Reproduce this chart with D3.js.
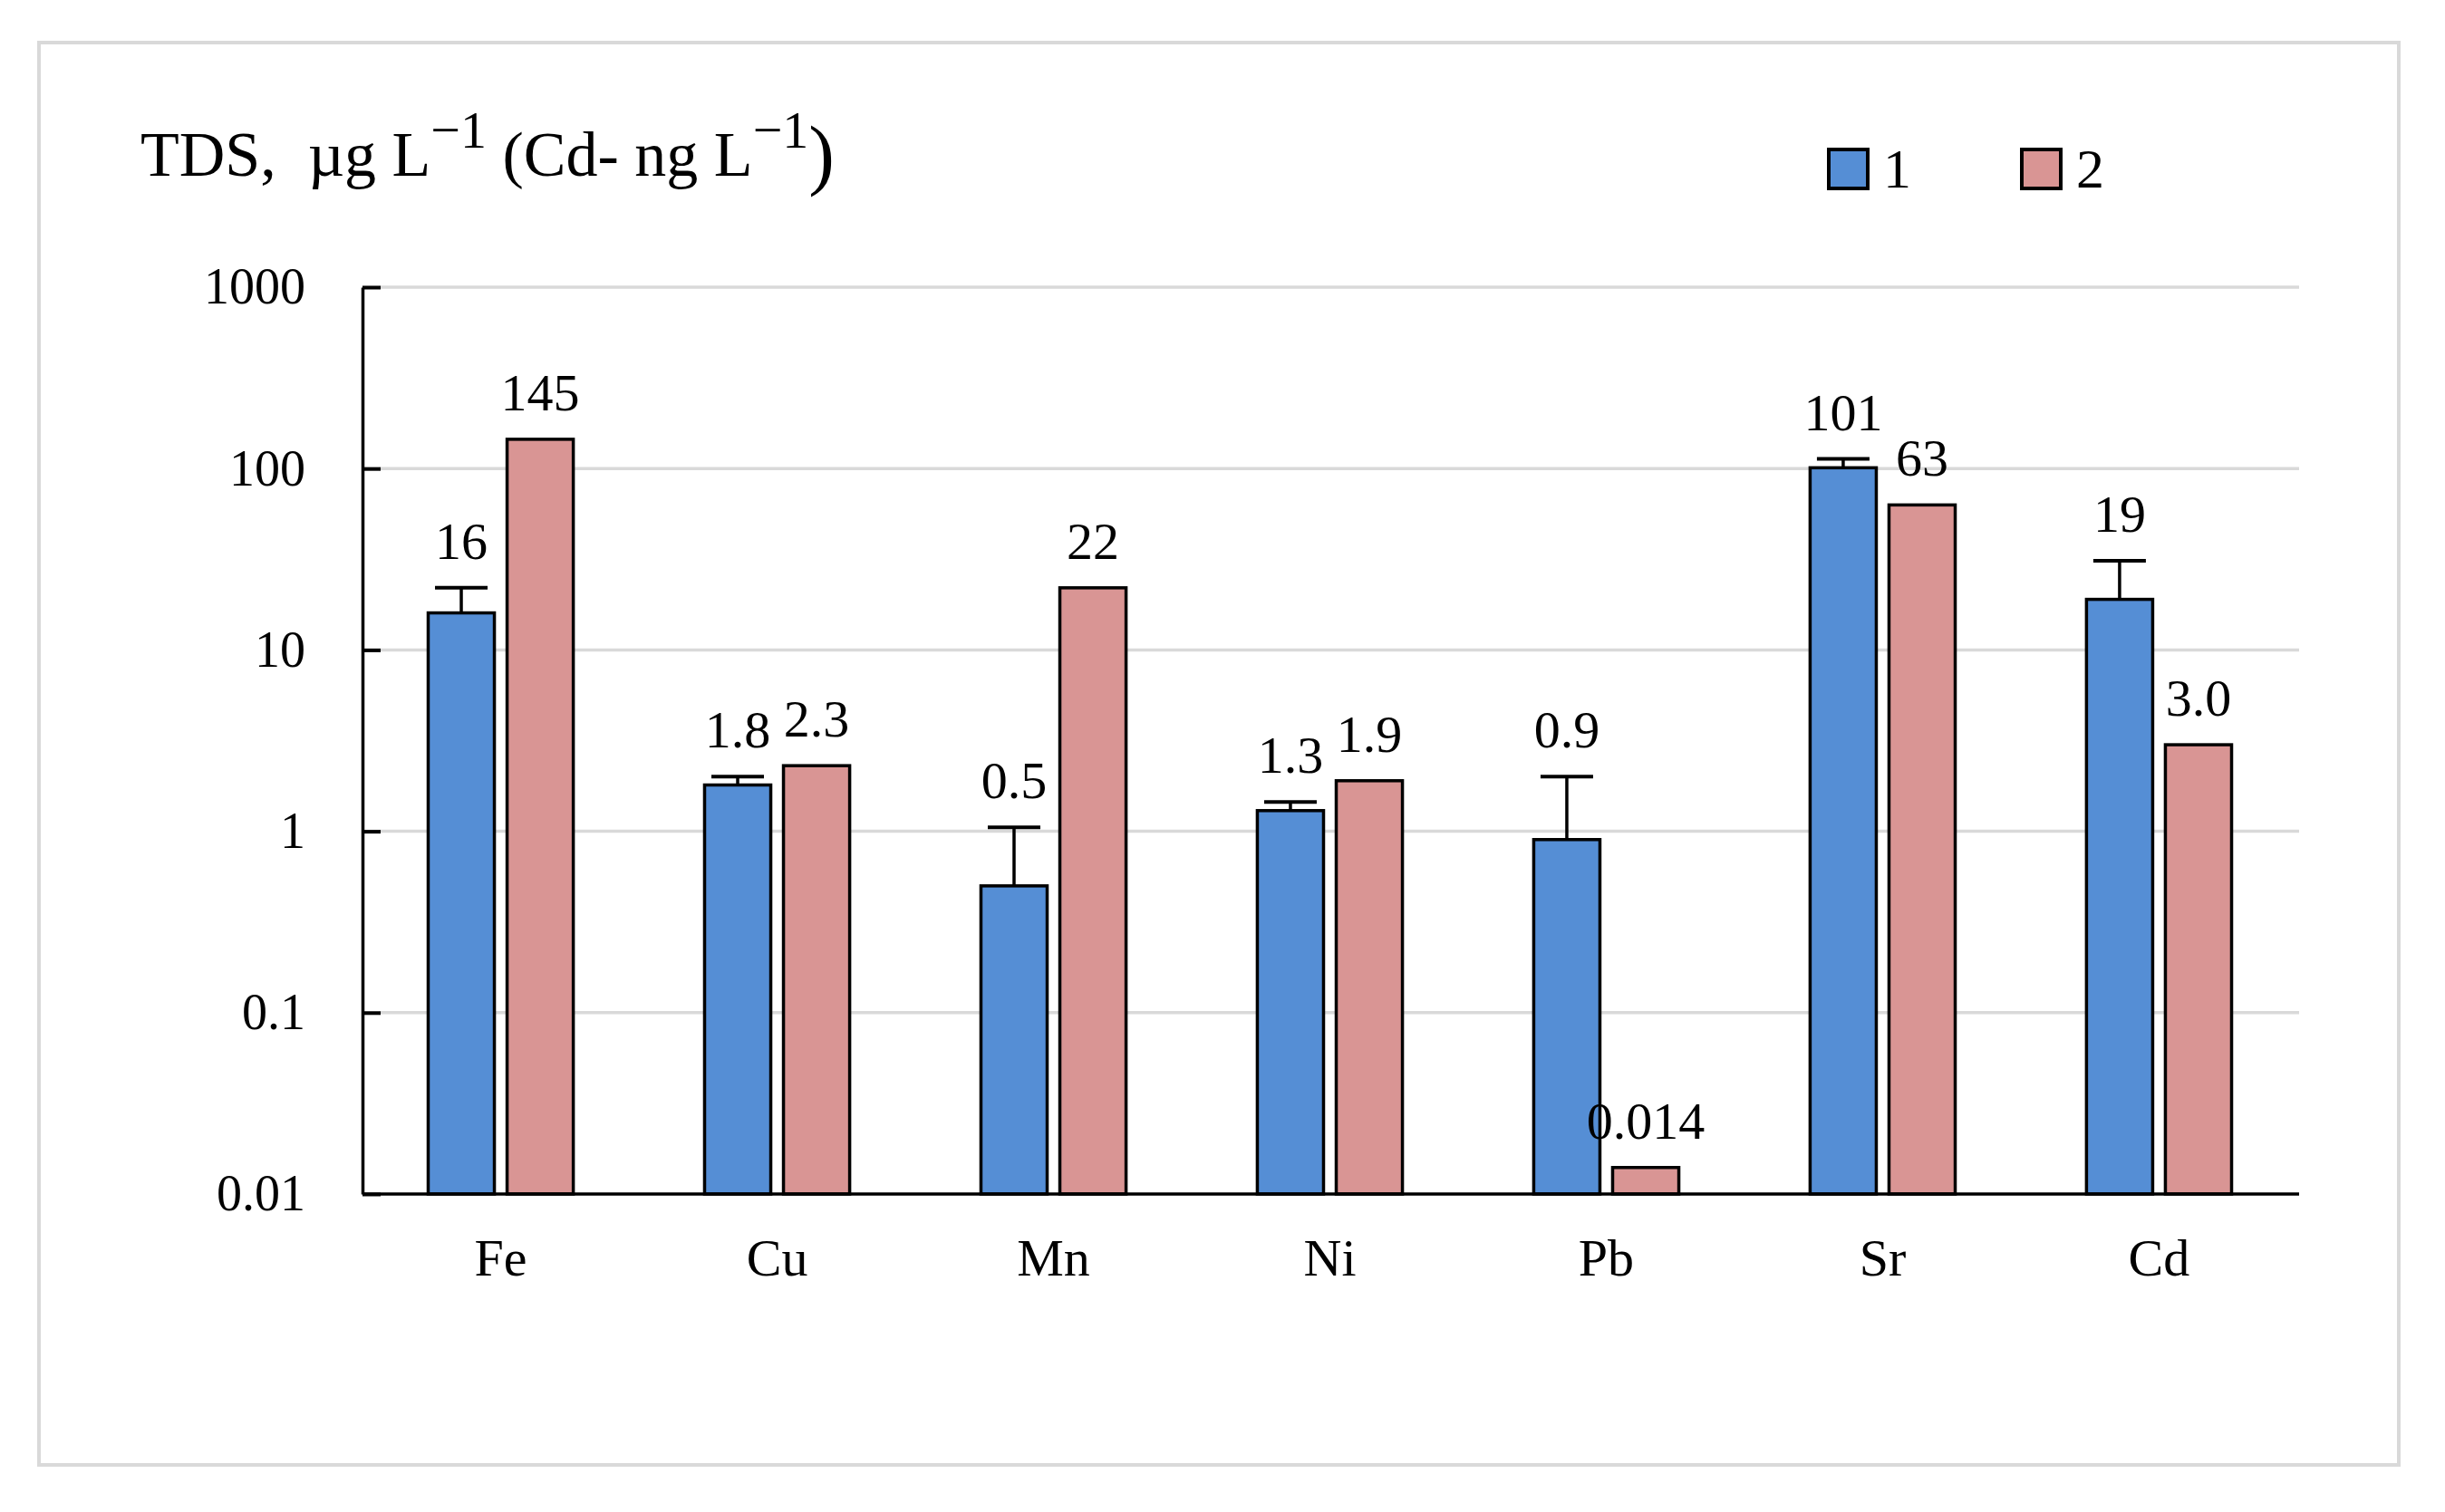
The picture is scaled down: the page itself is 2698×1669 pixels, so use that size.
<!DOCTYPE html>
<html>
<head>
<meta charset="utf-8">
<script src="https://cdn.jsdelivr.net/npm/d3@7"></script>
<style>
  body { margin: 0; background: #fff; }
  svg { display: block; font-family: "Liberation Serif", "Times New Roman", serif; }
</style>
</head>
<body>
<script>
// data
const elements = ["Fe", "Cu", "Mn", "Ni", "Pb", "Sr", "Cd"];
const series = ["1", "2"];
const values1 = [16, 1.8, 0.5, 1.3, 0.9, 101, 19];
const errors1 = [6, 0.2, 0.55, 0.15, 1.1, 12, 12];
const values2 = [145, 2.3, 22, 1.9, 0.014, 63, 3.0];
const labels1 = ["16", "1.8", "0.5", "1.3", "0.9", "101", "19"];
const labels2 = ["145", "2.3", "22", "1.9", "0.014", "63", "3.0"];
const tickValues = [1000, 100, 10, 1, 0.1, 0.01];
const tickLabels = ["1000", "100", "10", "1", "0.1", "0.01"];

const width = 2698, height = 1669;
const colors = ["#558ed5", "#d99594"];

const svg = d3.select("body").append("svg")
    .attr("width", width)
    .attr("height", height);

// outer frame
svg.append("rect")
    .attr("x", 43).attr("y", 47)
    .attr("width", 2604).attr("height", 1570)
    .attr("fill", "none")
    .attr("stroke", "#d9d9d9")
    .attr("stroke-width", 4);

const x = d3.scaleBand()
    .domain(elements)
    .range([400, 2535])
    .paddingInner(0.475)
    .paddingOuter(0.2377);

const xs = d3.scaleBand()
    .domain(series)
    .range([0, x.bandwidth()])
    .paddingInner(0.161);

const y = d3.scaleLog()
    .domain([0.01, 1000])
    .range([1318, 317]);

// grid
svg.append("g")
  .selectAll("line")
  .data(tickValues.filter(d => d > 0.01))
  .join("line")
    .attr("x1", 400).attr("x2", 2537)
    .attr("y1", d => y(d)).attr("y2", d => y(d))
    .attr("stroke", "#d9d9d9")
    .attr("stroke-width", 3.5);

const rows = elements.map((e, i) => ({
  name: e,
  bars: [
    {s: "1", v: values1[i], err: errors1[i], label: labels1[i]},
    {s: "2", v: values2[i], err: 0, label: labels2[i]}
  ]
}));

const group = svg.append("g")
  .selectAll("g")
  .data(rows)
  .join("g")
    .attr("transform", d => `translate(${x(d.name)},0)`);

const bar = group.selectAll("g")
  .data(d => d.bars)
  .join("g");

bar.append("rect")
    .attr("x", d => xs(d.s))
    .attr("y", d => y(d.v))
    .attr("width", xs.bandwidth())
    .attr("height", d => y(0.01) - y(d.v))
    .attr("fill", (d, i) => colors[i])
    .attr("stroke", "#000")
    .attr("stroke-width", 3.5);

// error bars, upper side only
const eb = bar.filter(d => d.err > 0);
eb.append("line")
    .attr("x1", d => xs(d.s) + xs.bandwidth() / 2)
    .attr("x2", d => xs(d.s) + xs.bandwidth() / 2)
    .attr("y1", d => y(d.v))
    .attr("y2", d => y(d.v + d.err))
    .attr("stroke", "#000")
    .attr("stroke-width", 3.5);
eb.append("line")
    .attr("x1", d => xs(d.s) + xs.bandwidth() / 2 - 29)
    .attr("x2", d => xs(d.s) + xs.bandwidth() / 2 + 29)
    .attr("y1", d => y(d.v + d.err))
    .attr("y2", d => y(d.v + d.err))
    .attr("stroke", "#000")
    .attr("stroke-width", 4);

bar.append("text")
    .attr("x", d => xs(d.s) + xs.bandwidth() / 2)
    .attr("y", d => y(d.v + d.err) - 32)
    .attr("text-anchor", "middle")
    .attr("font-size", 58)
    .text(d => d.label);

// y axis
const yAxis = svg.append("g")
    .attr("transform", "translate(400,0)")
    .call(d3.axisLeft(y)
      .tickValues(tickValues)
      .tickFormat((d, i) => tickLabels[i])
      .tickSizeInner(-20)
      .tickSizeOuter(0)
      .tickPadding(63));
yAxis.select(".domain").attr("stroke-width", 3.5);
yAxis.selectAll(".tick line").attr("stroke-width", 4);
yAxis.selectAll("text")
    .attr("font-family", "Liberation Serif, serif")
    .attr("font-size", 56)
    .attr("fill", "#000");

// x axis
const xAxis = svg.append("g")
    .attr("transform", "translate(0,1318)")
    .call(d3.axisBottom(x).tickSize(0).tickSizeOuter(0).tickPadding(49));
xAxis.select(".domain").attr("stroke-width", 3.5).attr("d", "M400,0H2537");
xAxis.selectAll("text")
    .attr("font-family", "Liberation Serif, serif")
    .attr("font-size", 58)
    .attr("fill", "#000");

// title
const title = svg.append("text")
    .attr("x", 155)
    .attr("y", 194)
    .attr("font-size", 70)
    .attr("xml:space", "preserve");
title.append("tspan").text("TDS,  µg L");
title.append("tspan").attr("dy", -31).attr("font-size", 58).text("−1");
title.append("tspan").attr("dy", 31).text(" (Cd- ng L");
title.append("tspan").attr("dy", -31).attr("font-size", 58).text("−1");
title.append("tspan").attr("dy", 36).attr("font-size", 86).text(")");

// legend
const legend = svg.append("g")
  .selectAll("g")
  .data(series)
  .join("g")
    .attr("transform", (d, i) => `translate(${2018 + i * 213},165)`);
legend.append("rect")
    .attr("width", 43).attr("height", 43)
    .attr("fill", (d, i) => colors[i])
    .attr("stroke", "#000")
    .attr("stroke-width", 4);
legend.append("text")
    .attr("x", 60)
    .attr("y", 42)
    .attr("font-size", 62)
    .text(d => d);
</script>
</body>
</html>
